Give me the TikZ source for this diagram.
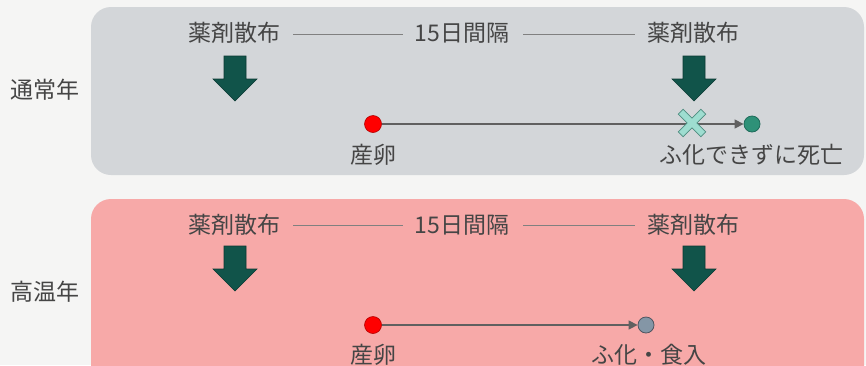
\documentclass[tikz,border=0pt]{standalone}
\usepackage{fontspec}
\setmainfont{Noto Sans CJK JP}
\usetikzlibrary{arrows.meta}
\definecolor{bgc}{HTML}{F5F5F4}
\definecolor{graybox}{HTML}{D3D6D9}
\definecolor{pinkbox}{HTML}{F7A9A8}
\definecolor{txt}{HTML}{454545}
\definecolor{arrg}{HTML}{11544A}
\definecolor{arrgb}{HTML}{0B3A33}
\definecolor{linec}{HTML}{606060}
\definecolor{crossf}{HTML}{9EDDD0}
\definecolor{crossb}{HTML}{4F8C80}
\definecolor{endg}{HTML}{2E9178}
\definecolor{endgb}{HTML}{1E6B5A}
\definecolor{endgray}{HTML}{8496A6}
\definecolor{endgrayb}{HTML}{4F5560}
\tikzset{
  lbl/.style={text=txt, font=\fontsize{23}{27}\selectfont, inner sep=0pt},
  sidelbl/.style={text=txt, font=\fontsize{23}{27}\selectfont, inner sep=0pt},
  sep/.style={draw=linec!80, line width=0.6pt},
  tl/.style={draw=linec, line width=1.3pt, -{Triangle[length=9pt,width=9pt]}},
  eggdot/.style={circle, fill=red, draw=red!70!black, line width=0.6pt, minimum size=17pt, inner sep=0pt},
  endgreen/.style={circle, fill=endg, draw=endgb, line width=0.8pt, minimum size=16pt, inner sep=0pt},
  endgraydot/.style={circle, fill=endgray, draw=endgrayb, line width=0.8pt, minimum size=16pt, inner sep=0pt},
  bigarrow/.style={fill=arrg, draw=arrgb, line width=0.6pt},
}
\newcommand{\sprayarrow}[2]{%
  \path[bigarrow] (#1-11,#2) -- (#1+11,#2) -- (#1+11,#2+23) -- (#1+22,#2+23) -- (#1,#2+45) -- (#1-22,#2+23) -- (#1-11,#2+23) -- cycle;}
\begin{document}
\begin{tikzpicture}[x=1pt,y=-1pt]
\useasboundingbox (0,0) rectangle (866,365);
\fill[bgc] (0,0) rectangle (866,365);
\begin{scope}
\clip (0,0) rectangle (866,365);
\fill[graybox, rounded corners=20pt] (91,7) rectangle (864,175);
\fill[pinkbox, rounded corners=20pt] (91,199) rectangle (864,400);
\end{scope}

% side labels
\node[sidelbl] (normal) at (45,90) {通常年};
\node[sidelbl] (hot) at (45,292) {高温年};

% ---- top row
\node[lbl] (s1) at (234,33) {薬剤散布};
\node[lbl] (iv1) at (462,33) {15日間隔};
\node[lbl] (s2) at (693,33) {薬剤散布};
\draw[sep] (293,34) -- (403,34);
\draw[sep] (523,34) -- (635,34);
\sprayarrow{235}{56}
\sprayarrow{694}{56}

\node[eggdot] (egg1) at (373,124) {};
\node[endgreen] (end1) at (752,124) {};
\draw[tl] (egg1) -- (end1);
\begin{scope}[shift={(692,123)}, rotate=45]
\path[fill=crossf, draw=crossb, line width=0.7pt]
 (-3.5,-16) -- (3.5,-16) -- (3.5,-3.5) -- (16,-3.5) -- (16,3.5) -- (3.5,3.5) -- (3.5,16) -- (-3.5,16) -- (-3.5,3.5) -- (-16,3.5) -- (-16,-3.5) -- (-3.5,-3.5) -- cycle;
\end{scope}
\node[lbl] (egglbl1) at (373,155) {産卵};
\node[lbl] (deadlbl) at (751,155) {ふ化できずに死亡};

% ---- bottom row
\node[lbl] (s3) at (234,225) {薬剤散布};
\node[lbl] (iv2) at (462,225) {15日間隔};
\node[lbl] (s4) at (693,225) {薬剤散布};
\draw[sep] (293,225) -- (403,225);
\draw[sep] (523,225) -- (635,225);
\sprayarrow{235}{246}
\sprayarrow{694}{246}

\node[eggdot] (egg2) at (373,325) {};
\node[endgraydot] (end2) at (646,325) {};
\draw[tl] (egg2) -- (end2);
\node[lbl] (egglbl2) at (373,355) {産卵};
\node[lbl] (hatchlbl) at (649,355) {ふ化・食入};
\end{tikzpicture}
\end{document}
